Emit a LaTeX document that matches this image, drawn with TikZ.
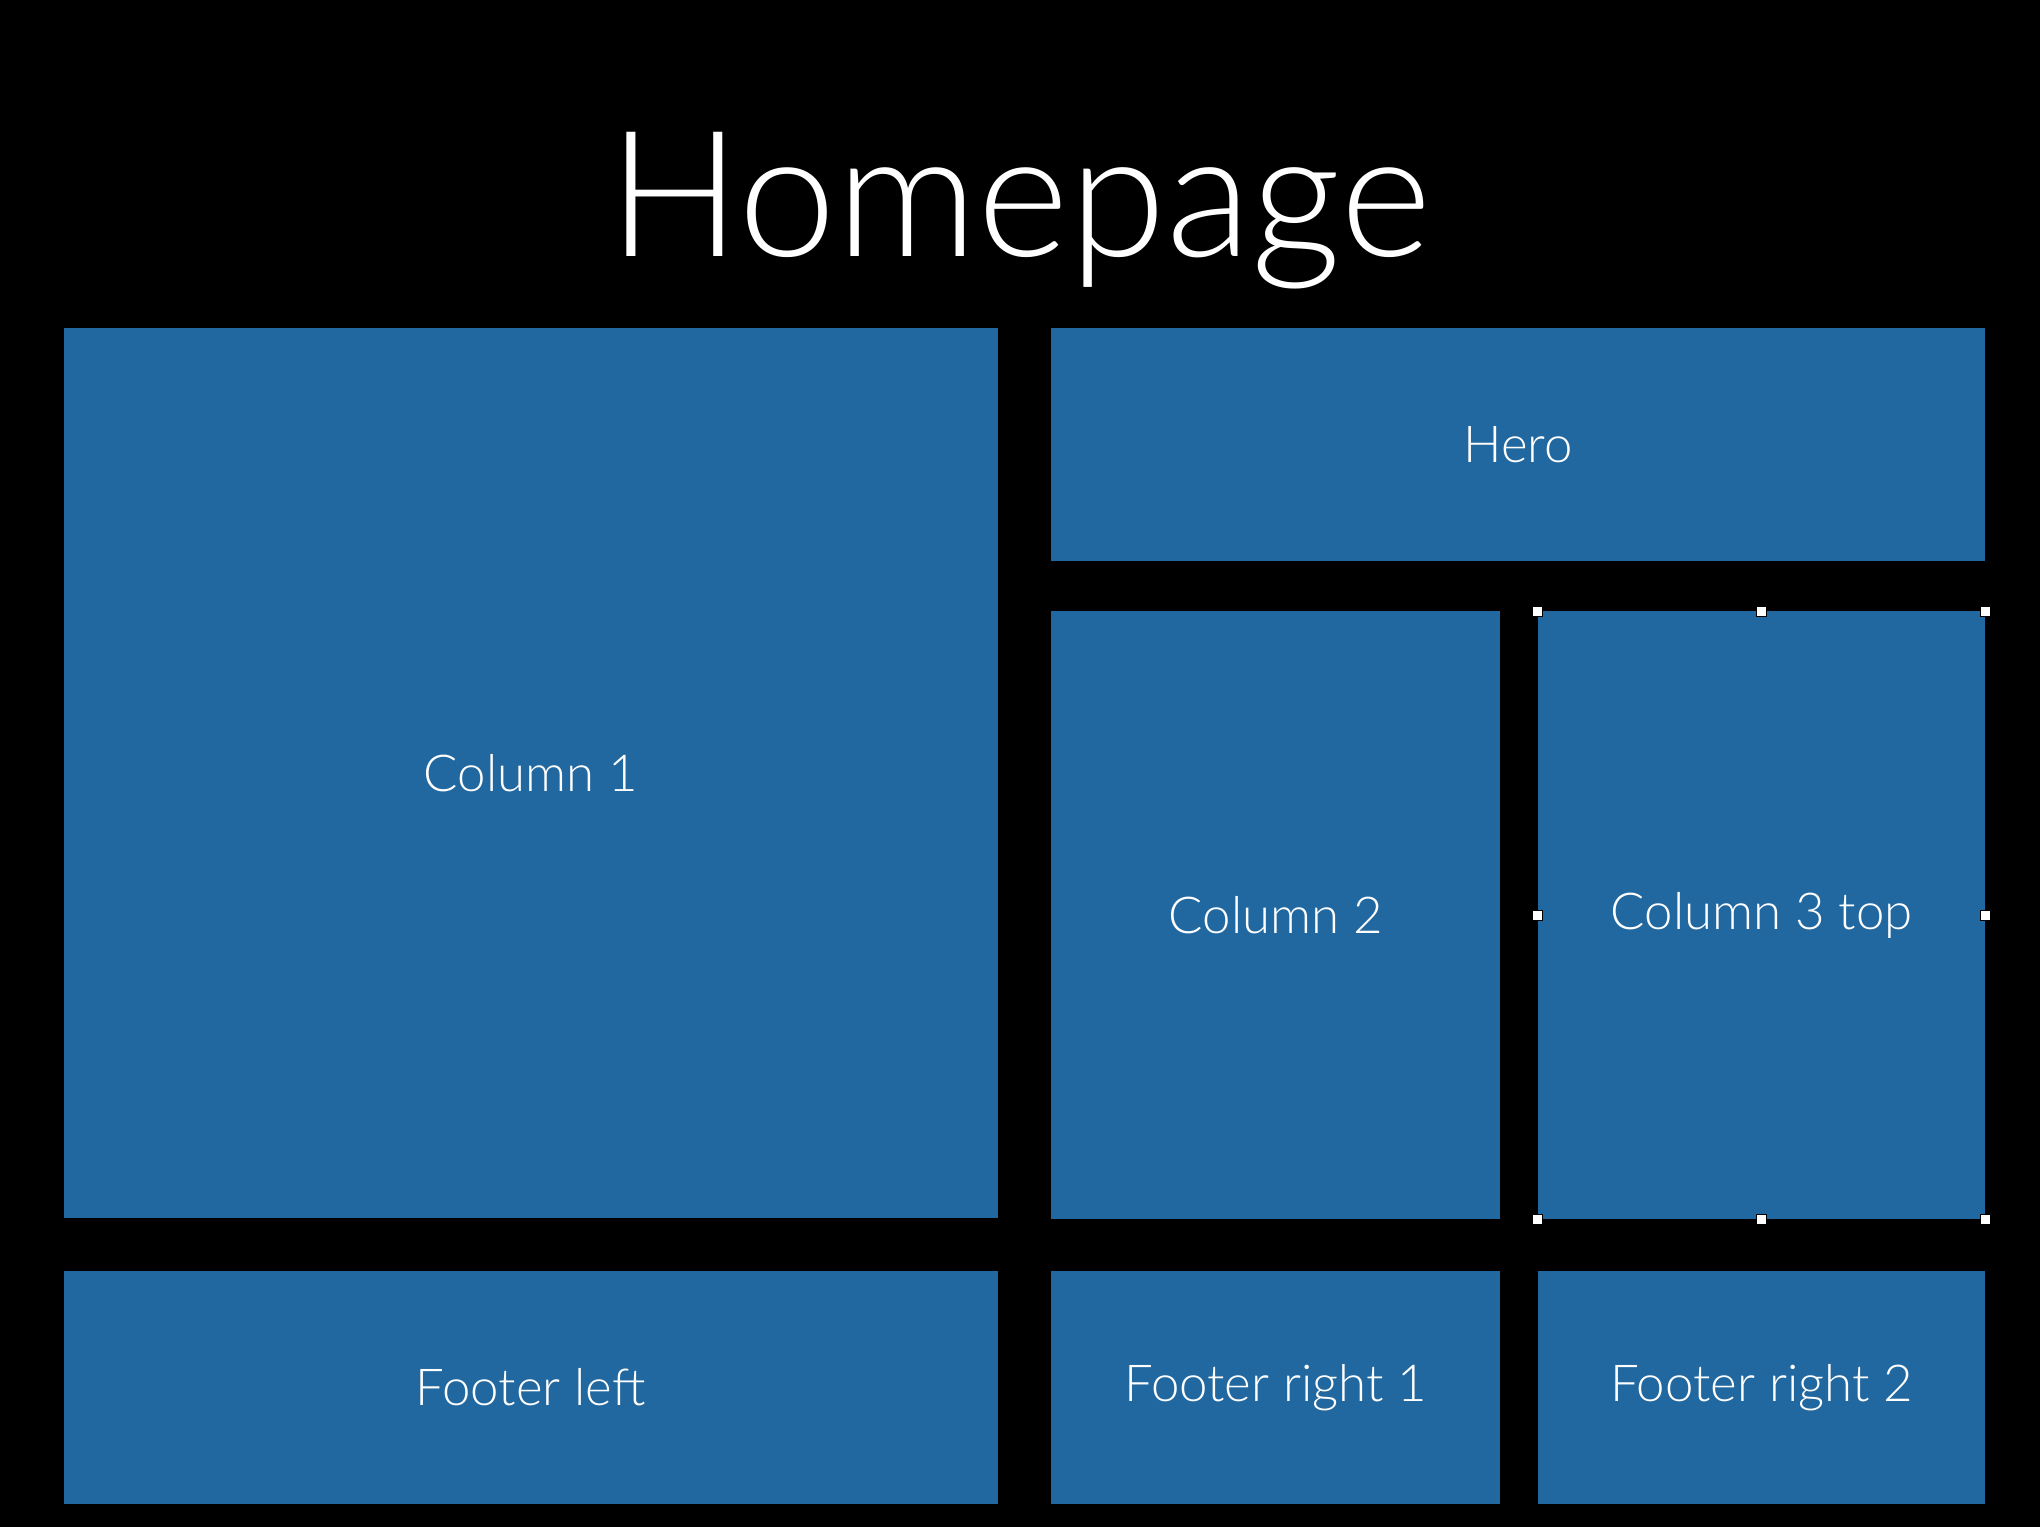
\documentclass[tikz,border=0pt]{standalone}
\usepackage{fontspec}
\setmainfont{Lato Light}
\usetikzlibrary{positioning}
\definecolor{panelblue}{HTML}{2268A0}
\begin{document}
\begin{tikzpicture}[x=0.01301cm, y=-0.01301cm,
    panel/.style={fill=panelblue, text=white, font=\fontsize{14.5}{17}\selectfont},
    grip/.style={draw=black, fill=white, line width=0.3pt, minimum size=0.1cm, inner sep=0pt}]
    \fill[black] (0,0) rectangle (1568,1174);
    \useasboundingbox (0,0) rectangle (1568,1174);

    \node[text=white, font=\fontsize{50}{56}\selectfont] (title) at (784,162) {Homepage};

    % panels
    \path[panel] (49,252) rectangle (767,936) node[midway] (col1) {Column 1};
    \path[panel] (808,252) rectangle (1526,431) node[midway] (hero) {Hero};
    \path[panel] (808,470) rectangle (1153,937) node[midway] (col2) {Column 2};
    \path[panel] (1182,470) rectangle (1526,937) node[midway] (col3) {Column 3 top};
    \path[panel] (49,977) rectangle (767,1156) node[midway] (footl) {Footer left};
    \path[panel] (808,977) rectangle (1153,1156) node[midway] (footr1) {Footer right 1};
    \path[panel] (1182,977) rectangle (1526,1156) node[midway] (footr2) {Footer right 2};

    % selection handles
    \foreach \hx in {1182,1354,1526}
        \foreach \hy in {470,937}
            \node[grip] at (\hx,\hy) {};
    \node[grip] at (1182,704) {};
    \node[grip] at (1526,704) {};
\end{tikzpicture}
\end{document}
